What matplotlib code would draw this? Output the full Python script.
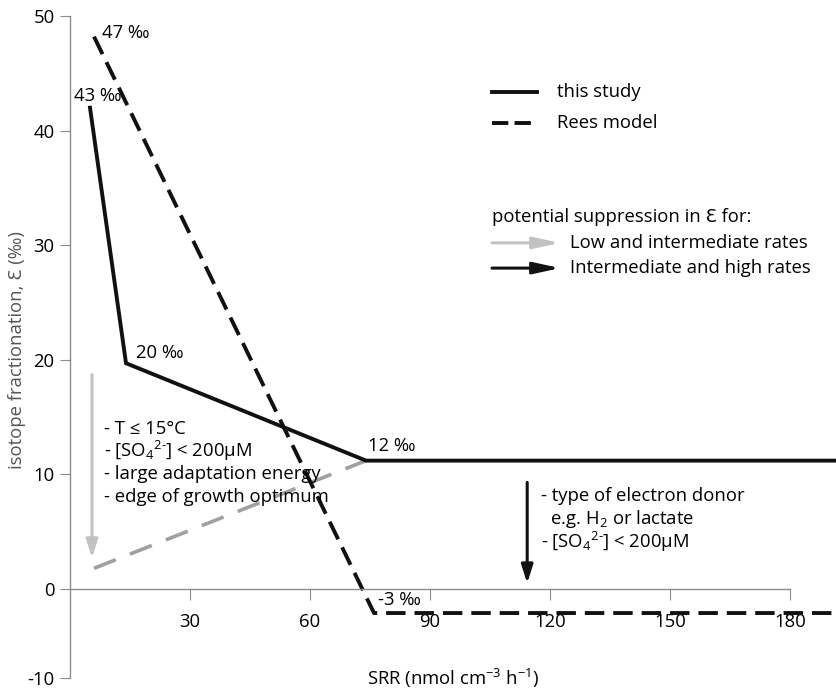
import matplotlib
matplotlib.use("Agg")
import matplotlib.pyplot as plt

plt.rcParams["font.family"] = ["Open Sans", "DejaVu Sans"]
plt.rcParams["mathtext.fontset"] = "custom"
plt.rcParams["mathtext.rm"] = "Open Sans"
plt.rcParams["mathtext.it"] = "Open Sans"
plt.rcParams["mathtext.default"] = "rm"

# lines (SRR, epsilon)
study_x = [5, 14, 74, 192]
study_y = [42, 19.7, 11.2, 11.2]
rees_x = [6, 76, 192]
rees_y = [48.2, -2.1, -2.1]
low_x = [6, 74]
low_y = [1.8, 11.2]

point_labels = ["47 ‰", "43 ‰", "20 ‰", "12 ‰", "-3 ‰"]
point_xy = [(8, 48.5), (1, 43), (16.5, 20.6), (74.5, 12.5), (77, -1.0)]

xticks = [30, 60, 90, 120, 150, 180]
yticks = [0, 10, 20, 30, 40, 50]
ybottom = -7.77   # drawn "-10" tick, compressed in the original

so4 = r"[SO$_4{}^{2\text{-}}$] < 200μM"
low_notes = ["- T ≤ 15°C", "- " + so4,
             "- large adaptation energy", "- edge of growth optimum"]
high_notes = ["- type of electron donor", r"  e.g. H$_2$ or lactate",
              "- " + so4]

GREY_AX = "#8c8c8c"
GREY_ARR = "#c2c2c2"
GREY_DASH = "#a0a0a0"
FS = 13.3

fig = plt.figure(figsize=(8.37, 6.93), dpi=100)
ax = fig.add_axes([70 / 837, 15 / 693, 768 / 837, 662 / 693])
ax.set_xlim(0, 192)
ax.set_ylim(ybottom, 50)

for s in ["top", "right"]:
    ax.spines[s].set_visible(False)
ax.spines["bottom"].set_position(("data", 0))
ax.spines["bottom"].set_bounds(0, 180)
ax.spines["left"].set_bounds(ybottom, 50)
for s in ["bottom", "left"]:
    ax.spines[s].set_color(GREY_AX)
    ax.spines[s].set_linewidth(1)

ax.set_xticks(xticks)
ax.set_yticks([ybottom] + yticks)
ax.set_yticklabels(["-10"] + [str(v) for v in yticks])
ax.tick_params(axis="x", direction="out", length=8, color=GREY_AX, pad=9, labelsize=FS)
ax.tick_params(axis="y", direction="out", length=7, color=GREY_AX, pad=4, labelsize=FS)

ax.plot(low_x, low_y, color=GREY_DASH, lw=2.6, dashes=(6.5, 4.2), solid_capstyle="butt")
ax.plot(study_x, study_y, color="#111111", lw=2.8, solid_joinstyle="miter")
ax.plot(rees_x, rees_y, color="#111111", lw=2.8, dashes=(5, 2.3))

for t, (x, y) in zip(point_labels, point_xy):
    ax.text(x, y, t, fontsize=FS, ha="left", va="center")

# vertical suppression arrows
ax.annotate("", xy=(5.5, 2.7), xytext=(5.5, 18.7),
            arrowprops=dict(arrowstyle="-|>,head_length=1.1,head_width=0.35",
                            color=GREY_ARR, lw=2.2, shrinkA=0, shrinkB=0))
ax.annotate("", xy=(114.3, 0.5), xytext=(114.3, 9.3),
            arrowprops=dict(arrowstyle="-|>,head_length=1.1,head_width=0.35",
                            color="#111111", lw=2.2, shrinkA=0, shrinkB=0))

for i, t in enumerate(low_notes):
    ax.text(8.5, 14.0 - i * 1.98, t, fontsize=FS, ha="left", va="center")
for i, t in enumerate(high_notes):
    ax.text(117.75, 8.1 - i * 2.0, t, fontsize=FS, ha="left", va="center")

# legend
ax.plot([105.5, 116.75], [43.4, 43.4], color="#111111", lw=2.8)
ax.plot([105.5, 116.75], [40.7, 40.7], color="#111111", lw=2.8, dashes=(4.2, 1.6))
ax.text(121.75, 43.4, "this study", fontsize=FS, va="center")
ax.text(121.75, 40.7, "Rees model", fontsize=FS, va="center")
ax.text(105.5, 32.5, "potential suppression in Ɛ for:", fontsize=FS, va="center")
ax.annotate("", xy=(122.5, 30.2), xytext=(105.5, 30.2),
            arrowprops=dict(arrowstyle="-|>,head_length=1.6,head_width=0.35",
                            color=GREY_ARR, lw=2.2, shrinkA=0, shrinkB=0))
ax.annotate("", xy=(122.5, 28.0), xytext=(105.5, 28.0),
            arrowprops=dict(arrowstyle="-|>,head_length=1.6,head_width=0.35",
                            color="#111111", lw=2.2, shrinkA=0, shrinkB=0))
ax.text(125, 30.2, "Low and intermediate rates", fontsize=FS, va="center")
ax.text(125, 28.0, "Intermediate and high rates", fontsize=FS, va="center")

ax.text(74.25, ybottom, r"SRR (nmol cm$^{-3}$ h$^{-1}$)", fontsize=FS, va="center")
fig.text(17 / 837, 1 - 350 / 693, "isotope fractionation, Ɛ (‰)", rotation=90,
         fontsize=FS, color="#555555", ha="center", va="center")

fig.savefig("out.png", dpi=100)
